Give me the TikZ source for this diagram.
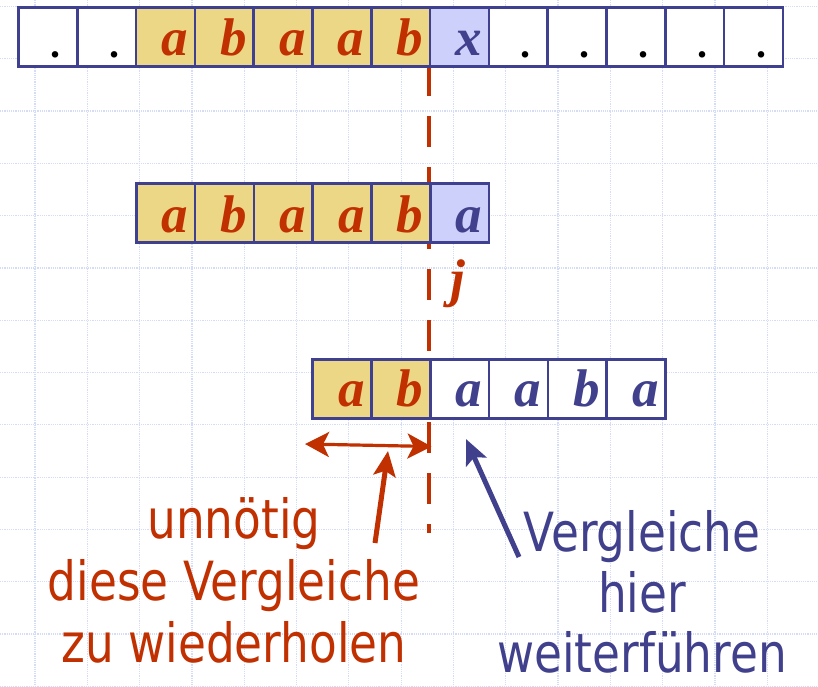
\documentclass[tikz,border=0pt]{standalone}
\usepackage{fontspec}
\setmainfont{Liberation Serif}
\newfontfamily\lblfont{DejaVu Sans}[FakeStretch=0.84]
\usetikzlibrary{arrows.meta,calc}
\definecolor{cellblue}{RGB}{64,64,144}
\definecolor{hityellow}{RGB}{235,215,134}
\definecolor{misslav}{RGB}{205,208,250}
\definecolor{redc}{RGB}{192,48,0}
\definecolor{bluec}{RGB}{64,64,140}
\definecolor{gridc}{RGB}{212,220,248}
\tikzset{
  gridline/.style={draw=gridc, line width=1.2pt, densely dotted},
  cellbox/.style={draw=cellblue, line width=2.5pt, minimum width=58.8pt, minimum height=59pt, inner sep=0pt, anchor=north west},
  dot-cell/.style={cellbox, fill=white},
  hit-cell/.style={cellbox, fill=hityellow},
  miss-cell/.style={cellbox, fill=misslav},
  rest-cell/.style={cellbox, fill=white},
  lettxt/.style={inner sep=0pt, anchor=base east, font=\fontsize{53}{53}\selectfont\bfseries\itshape},
  dot-txt/.style={inner sep=0pt, anchor=base, text=black, font=\fontsize{40}{40}\selectfont\normalfont\bfseries, xshift=-15pt, yshift=-2pt},
  hit-txt/.style={lettxt, text=redc},
  miss-txt/.style={lettxt, text=bluec},
  rest-txt/.style={lettxt, text=bluec},
  reddash/.style={draw=redc, line width=3.5pt, dash pattern=on 31pt off 20pt},
  redarrow/.style={draw=redc, line width=5pt, -{Stealth[length=25pt,width=22pt,inset=5pt]}},
  dblarrow/.style={draw=redc, line width=3.2pt, {Stealth[length=24pt,width=25pt,inset=6pt]}-{Stealth[length=24pt,width=25pt,inset=6pt]}},
  bluearrow/.style={draw=bluec, line width=5pt, -{Stealth[length=25pt,width=22pt,inset=5pt]}},
  redlbl/.style={anchor=base, inner sep=0pt, text depth=0pt, text=redc, font=\lblfont\fontsize{54}{61}\selectfont},
  bluelbl/.style={anchor=base, inner sep=0pt, text depth=0pt, text=bluec, font=\lblfont\fontsize{54}{61}\selectfont}
}
\begin{document}
\begin{tikzpicture}[x=1pt,y=-1pt]
\useasboundingbox[fill=white] (0,0) rectangle (818,686);
% background grid
\foreach \k in {0,...,14} \draw[gridline] (35+52.3*\k,0) -- (35+52.3*\k,686);
\foreach \k in {0,...,13} \draw[gridline] (0,6.4+52.3*\k) -- (818,6.4+52.3*\k);
% dashed separation line
\coordinate (dtop) at (428.8,65);
\coordinate (dbot) at (428.8,533);
\draw[reddash] (dtop) -- (dbot);
% text row
\foreach \t/\s [count=\i from 0] in {./dot,./dot,a/hit,b/hit,a/hit,a/hit,b/hit,x/miss,./dot,./dot,./dot,./dot,./dot}{
  \node[\s-cell] (t\i) at (17.2+58.8*\i,6) {};
  \node[\s-txt] at ($(t\i.south east)+(-8,-12)$) {\t};
}
% pattern, first position
\foreach \t/\s [count=\i from 0] in {a/hit,b/hit,a/hit,a/hit,b/hit,a/miss}{
  \node[\s-cell] (m\i) at (135+58.8*\i,182) {};
  \node[\s-txt] at ($(m\i.south east)+(-8,-11)$) {\t};
}
\node[hit-txt, anchor=base] (j) at (458,296) {j};
% pattern, shifted
\foreach \t/\s [count=\i from 0] in {a/hit,b/hit,a/rest,a/rest,b/rest,a/rest}{
  \node[\s-cell] (b\i) at (311.4+58.8*\i,358) {};
  \node[\s-txt] at ($(b\i.south east)+(-8,-13)$) {\t};
}
% arrows
\coordinate (dl) at (305,444);
\coordinate (dr) at ($(b1.south east)+(0,27)$);
\draw[dblarrow] (dl) -- (dr);
% labels
\node[redlbl] (r1) at (234,538) {unnötig};
\node[redlbl] (r2) at (234,600) {diese Vergleiche};
\node[redlbl] (r3) at (234,662) {zu wiederholen};
\node[bluelbl] (v1) at (642,551) {Vergleiche};
\node[bluelbl] (v2) at (642,612) {hier};
\node[bluelbl] (v3) at (642,672) {weiterführen};
\coordinate (ra) at (375,543);
\coordinate (rb) at (388,451);
\draw[redarrow] (ra) -- (rb);
\coordinate (ba) at (519,557);
\coordinate (bb) at (466,439);
\draw[bluearrow] (ba) -- (bb);
\end{tikzpicture}
\end{document}
